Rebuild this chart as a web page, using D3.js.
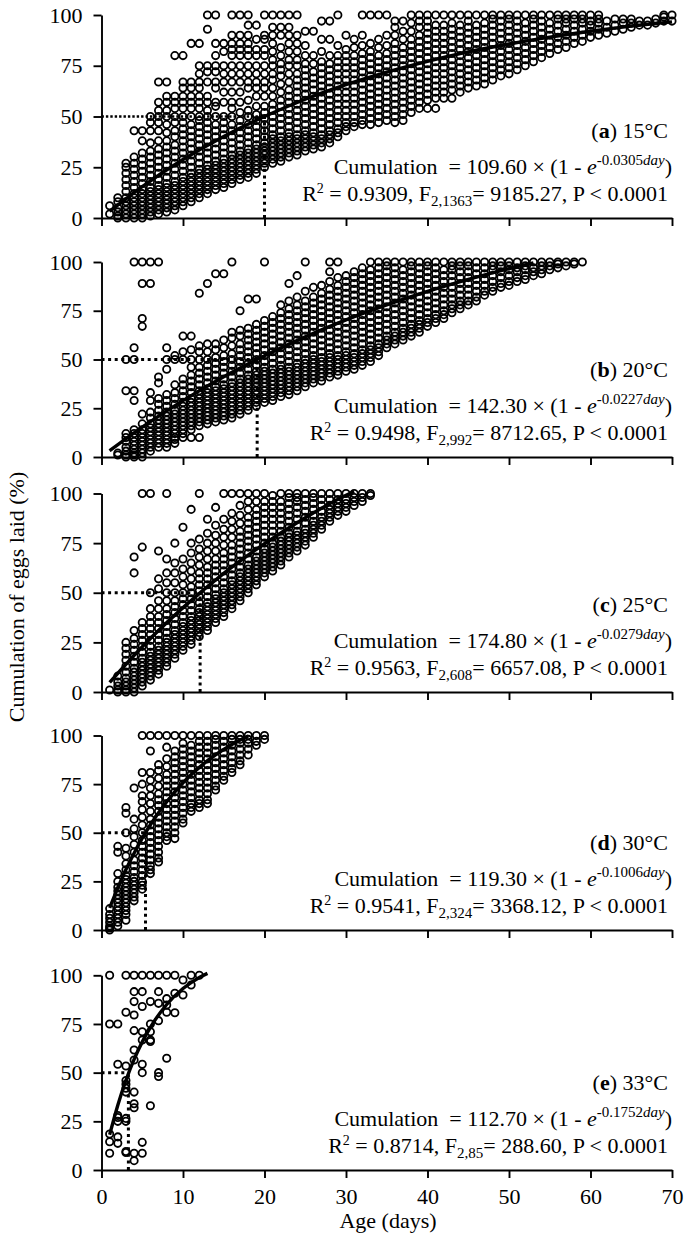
<!DOCTYPE html>
<html><head><meta charset="utf-8">
<script src="https://cdn.jsdelivr.net/npm/d3@7"></script>
<style>
body{margin:0;background:#fff}
svg{display:block;background:#fff}
text{font-family:"Liberation Serif","Times New Roman",serif;fill:#000;white-space:pre}
</style>
</head><body>
<svg id="chart" width="687" height="1243"></svg>
<script>
// ---------- DATA ----------
const xTicks = [0,10,20,30,40,50,60,70];
const yTicks = [0,25,50,75,100];
const panelLetters = ["a","b","c","d","e"];
const temps = ["15°C","20°C","25°C","30°C","33°C"];
const asym = ["109.60","142.30","174.80","119.30","112.70"];
const rate = ["0.0305","0.0227","0.0279","0.1006","0.1752"];
const r2 = ["0.9309","0.9498","0.9563","0.9541","0.8714"];
const dfs = ["2,1363","2,992","2,608","2,324","2,85"];
const fvals = ["9185.27","8712.65","6657.08","3368.12","288.60"];
const halfDay = [20.0,19.1,12.1,5.4,3.3];

// per-day cumulative % values (a) 15°C
const pointsA = [
[1,[2,6]],
[2,[0,1,3,5,8,10]],
[3,[0,2,4,6,8,10,13,16,19,22,25,27]],
[4,[0,2,4,6,8,10,12,15,18,21,24,27,30,43]],
[5,[0,2,4,6,8,10,12,14,17,20,23,26,29,32,38,43]],
[6,[1,3,5,7,9,11,13,15,18,21,24,27,30,33,37,43,47,50]],
[7,[2,4,6,8,10,12,14,16,19,22,25,28,31,34,38,43,47,50,53,57,67]],
[8,[3,5,7,9,11,13,15,17,20,23,26,29,32,35,38,42,46,50,53,57,60,67]],
[9,[4,6,8,10,12,14,16,18,21,24,27,30,33,36,40,43,47,50,54,57,60,80]],
[10,[6,8,10,12,14,16,18,20,23,26,29,32,35,38,41,44,47,50,54,57,60,64,67,80]],
[11,[8,10,12,14,16,18,20,22,25,28,31,34,37,40,43,46,50,54,57,60,64,67,86]],
[12,[10,12,14,16,18,20,22,24,27,30,33,36,39,42,45,48,50,54,57,60,64,67,71,75,86]],
[13,[12,14,16,18,20,22,24,26,29,32,35,38,41,44,47,50,53,57,60,67,72,75,93,100]],
[14,[14,16,18,20,22,24,26,28,31,34,37,40,43,46,50,55,57,64,67,72,75,80,86,100]],
[15,[15,17,19,21,23,25,27,29,32,35,38,41,44,47,50,57,62,67,71,75,82,86]],
[16,[17,19,21,23,25,27,29,31,34,37,40,43,46,50,54,57,62,67,71,75,80,83,86,90,100]],
[17,[19,21,23,25,27,29,31,33,36,39,42,45,48,52,57,62,67,71,75,80,83,86,90,100]],
[18,[20,22,24,26,28,30,32,34,37,40,43,46,50,53,58,64,67,71,75,80,83,86,90,95,100]],
[19,[22,24,26,28,30,32,34,36,39,42,45,48,51,55,60,64,67,71,75,80,83,88,95]],
[20,[25,27,29,31,33,35,37,40,43,46,49,52,55,60,64,67,71,75,80,83,88,90,100]],
[21,[27,29,31,33,35,37,39,41,44,47,50,53,56,60,64,68,71,75,78,82,86,90,94,100]],
[22,[28,30,32,34,36,38,40,43,46,49,52,55,58,62,66,70,73,76,80,84,90,94,100]],
[23,[30,32,34,36,38,40,42,45,48,51,54,57,60,63,67,71,75,78,82,86,90,94,100]],
[24,[31,33,35,37,39,41,44,47,50,53,56,59,62,65,68,71,75,78,82,86,90,100]],
[25,[33,35,37,39,41,43,46,49,52,55,58,61,64,67,70,73,76,80,85,92]],
[26,[34,36,38,40,42,45,48,51,54,57,60,63,66,69,72,76,80,92]],
[27,[35,37,39,41,44,47,50,53,56,59,62,65,68,71,74,77,82,88,97]],
[28,[37,39,41,43,46,49,52,55,58,61,64,67,70,73,76,80,88,97]],
[29,[40,42,44,47,50,53,56,59,62,65,68,71,74,77,80,85,100]],
[30,[43,45,47,50,53,56,59,62,65,68,71,74,77,80,83,90]],
[31,[45,47,50,53,56,59,62,65,68,71,74,77,80,84,88]],
[32,[46,48,51,54,57,60,63,66,69,72,75,78,81,85,90,100]],
[33,[46,49,52,55,58,61,64,67,70,73,76,79,82,86,100]],
[34,[47,50,53,56,59,62,65,68,71,74,77,80,84,88,100]],
[35,[48,51,54,57,60,63,66,69,72,75,78,81,85,90,100]],
[36,[47,50,53,56,59,62,65,68,71,74,77,80,83,86,90,94,97]],
[37,[48,51,54,57,60,63,66,69,72,75,78,81,84,88,92,97]],
[38,[52,55,58,61,64,67,70,73,76,79,82,85,88,92,96,100]],
[39,[54,57,60,63,66,69,72,75,78,81,84,87,90,94,97,100]],
[40,[54,58,61,64,67,70,73,76,79,82,85,88,91,94,97,100]],
[41,[54,59,62,65,68,71,74,77,80,83,86,89,92,95,100]],
[42,[59,62,65,68,71,74,77,80,83,86,89,92,95,100]],
[43,[59,63,66,69,72,75,78,81,84,87,90,93,96,100]],
[44,[62,65,68,71,74,77,80,83,86,89,92,95,100]],
[45,[64,67,70,73,76,79,82,85,88,91,94,97,100]],
[46,[65,68,71,74,77,80,83,86,89,92,95,100]],
[47,[66,69,72,75,78,81,84,87,90,93,96,100]],
[48,[68,71,74,77,80,83,86,89,92,95,98,100]],
[49,[70,73,76,79,82,85,88,91,94,97,100]],
[50,[71,74,77,80,83,86,89,92,95,98,100]],
[51,[73,76,79,82,85,88,91,94,97,100]],
[52,[75,78,81,84,87,90,93,96,100]],
[53,[77,80,83,86,89,92,95,98,100]],
[54,[79,82,85,88,91,94,97,100]],
[55,[81,84,87,90,93,96,100]],
[56,[83,86,89,92,95,98,100]],
[57,[84,87,90,93,96,98,100]],
[58,[86,89,92,95,98,100]],
[59,[87,90,93,96,98,100]],
[60,[89,92,95,97,100]],
[61,[90,93,96,98,100]],
[62,[91,94,97]],
[63,[92,95,98]],
[64,[93,96,98]],
[65,[94,96,98]],
[66,[95,97]],
[67,[95,97]],
[68,[96,98]],
[69,[97,99,100]],
[70,[97,100]]
];

// (b) 20°C
const pointsB = [
[2,[1,2]],
[3,[0,1,3,5,8,10,12,34,50]],
[4,[0,1,2,4,6,8,10,12,14,29,34,50,56,100]],
[5,[0,2,4,6,8,10,12,14,17,22,67,71,89,100]],
[6,[3,5,7,9,11,13,15,17,20,23,29,33,89,100]],
[7,[5,7,9,11,13,15,17,19,21,24,27,30,38,41,100]],
[8,[5,7,9,11,13,15,17,19,21,23,26,29,32,45,50,56]],
[9,[7,9,10,12,14,16,18,20,22,24,27,30,33,37,50,52]],
[10,[10,12,14,16,18,20,22,24,26,28,31,34,37,40,50,54,62]],
[11,[10,14,16,18,20,22,24,26,28,30,33,36,39,42,46,50,55,62]],
[12,[10,16,18,20,22,24,26,28,30,32,34,37,40,43,46,50,54,57,84]],
[13,[17,19,21,23,25,27,29,31,33,35,38,41,44,47,50,54,58,89]],
[14,[18,20,22,24,26,28,30,32,34,36,39,42,45,48,51,55,58,94]],
[15,[19,21,23,25,27,29,31,33,35,37,40,43,46,49,52,56,60,94]],
[16,[20,22,24,26,28,30,32,34,36,38,41,44,47,50,53,57,61,64,100]],
[17,[22,24,26,28,30,32,34,36,38,40,43,46,49,52,55,58,62,65,75]],
[18,[24,26,28,30,32,34,36,38,40,42,45,48,51,54,57,60,63,66,81]],
[19,[26,28,30,32,34,36,38,40,42,44,47,50,53,56,59,62,65,68,81]],
[20,[28,30,32,34,36,38,40,42,44,46,49,52,55,58,61,64,67,70,100]],
[21,[29,31,33,35,37,39,41,43,45,48,51,54,57,60,63,66,69,72]],
[22,[31,33,35,37,39,41,43,45,47,50,53,56,59,62,65,68,71,74,78]],
[23,[32,34,36,38,40,42,44,46,49,52,55,58,61,64,67,70,73,76,80,89]],
[24,[34,36,38,40,42,44,46,48,51,54,57,60,63,66,69,72,75,78,82,93]],
[25,[36,38,40,42,44,46,48,50,53,56,59,62,65,68,71,74,77,80,85,100]],
[26,[38,40,42,44,46,48,50,52,55,58,61,64,67,70,73,76,79,82,87]],
[27,[39,41,43,45,47,49,51,54,57,60,63,66,69,72,75,78,81,84,88]],
[28,[41,43,45,47,49,51,53,56,59,62,65,68,71,74,77,80,83,86,90,95,100]],
[29,[42,44,46,48,50,52,55,58,61,64,67,70,73,76,79,82,85,88,92,100]],
[30,[44,46,48,50,52,54,57,60,63,66,69,72,75,78,81,84,87,90,93]],
[31,[45,47,49,51,53,56,59,62,65,68,71,74,77,80,83,86,89,92,95]],
[32,[47,49,51,53,55,58,61,64,67,70,73,76,79,82,85,88,91,94,97]],
[33,[49,51,53,55,57,60,63,66,69,72,75,78,81,84,87,90,93,96,100]],
[34,[52,54,56,58,61,64,67,70,73,76,79,82,85,88,91,94,97,100]],
[35,[56,58,60,62,65,68,71,74,77,80,83,86,89,92,95,98,100]],
[36,[58,60,62,64,67,70,73,76,79,82,85,88,91,94,97,100]],
[37,[60,62,64,66,69,72,75,78,81,84,87,90,93,96,100]],
[38,[62,64,66,68,71,74,77,80,83,86,89,92,95,98,100]],
[39,[64,66,68,70,73,76,79,82,85,88,91,94,97,100]],
[40,[67,69,71,74,77,80,83,86,89,92,95,98,100]],
[41,[69,71,73,76,79,82,85,88,91,94,97,100]],
[42,[71,73,75,78,81,84,87,90,93,96,100]],
[43,[74,76,78,81,84,87,90,93,96,98,100]],
[44,[76,78,80,83,86,89,92,95,98,100]],
[45,[78,80,83,86,89,92,95,98,100]],
[46,[80,82,85,88,91,94,97,100]],
[47,[83,85,88,91,94,97,100]],
[48,[85,87,90,93,96,98,100]],
[49,[87,89,92,95,98,100]],
[50,[88,90,93,96,98,100]],
[51,[90,92,95,97,100]],
[52,[91,93,96,98,100]],
[53,[93,95,97,100]],
[54,[94,96,98,100]],
[55,[96,98,100]],
[56,[97,99,100]],
[57,[98,100]],
[58,[99,100]],
[59,[100]]
];

// (c) 25°C
const pointsC = [
[1,[1]],
[2,[0,1,3,5,8]],
[3,[0,1,3,5,7,10,13,16,19,22,25]],
[4,[0,2,4,6,8,10,12,15,18,21,24,27,31,60,68]],
[5,[3,5,7,9,11,13,15,17,20,23,26,29,32,35,73,100]],
[6,[6,8,10,12,14,16,18,20,23,26,29,32,35,38,42,50,100]],
[7,[9,11,13,15,17,19,21,23,26,29,32,35,38,42,46,52,57,71]],
[8,[13,15,17,19,21,23,25,27,30,33,36,39,42,46,50,55,60,67,100]],
[9,[17,19,21,23,25,27,29,31,34,37,40,43,46,50,55,60,65,75]],
[10,[21,23,25,27,29,31,33,35,38,41,44,47,50,54,58,62,67,83]],
[11,[24,26,28,30,32,34,36,38,41,44,47,50,53,57,61,65,70,75,92]],
[12,[28,30,32,34,36,38,40,42,45,48,51,54,57,60,64,68,72,77,100]],
[13,[31,33,35,37,39,41,43,45,48,51,54,57,60,63,67,71,75,80,87]],
[14,[35,37,39,41,43,45,47,49,52,55,58,61,64,67,71,75,79,84,93]],
[15,[38,40,42,44,46,48,50,52,55,58,61,64,67,70,74,78,82,87,100]],
[16,[42,44,46,48,50,52,54,56,59,62,65,68,71,74,78,82,86,90,100]],
[17,[46,48,50,52,54,56,58,60,63,66,69,72,75,78,81,85,89,94,100]],
[18,[50,52,54,56,58,60,62,64,67,70,73,76,79,82,85,88,92,96,100]],
[19,[54,56,58,60,62,64,66,68,71,74,77,80,83,86,89,92,96,100]],
[20,[58,60,62,64,66,68,70,72,75,78,81,84,87,90,93,96,100]],
[21,[61,63,65,67,69,71,73,75,78,81,84,87,90,93,96,99]],
[22,[64,66,68,70,72,74,76,78,81,84,87,90,93,96,100]],
[23,[68,70,72,74,76,78,80,83,86,89,92,95,98,100]],
[24,[71,73,75,77,79,81,84,87,90,93,96,98,100]],
[25,[74,76,78,80,82,85,88,91,94,97,100]],
[26,[78,80,82,84,86,89,92,95,98,100]],
[27,[82,84,86,88,91,94,97,100]],
[28,[86,88,90,92,94,97,100]],
[29,[89,91,93,95,97,100]],
[30,[91,93,95,97,100]],
[31,[94,96,98,100]],
[32,[96,98,100]],
[33,[99,100]]
];

// (d) 30°C
const pointsD = [
[1,[0,1,2,4,6,8,11]],
[2,[2,4,6,8,10,12,14,16,18,20,22,25,29,40,43]],
[3,[5,8,10,12,14,16,18,20,22,24,26,28,31,34,38,42,50,60,63]],
[4,[15,17,19,21,23,25,27,30,33,36,40,44,48,52,57,73]],
[5,[21,23,25,28,31,34,37,40,43,46,50,54,58,62,66,69,75,81,100]],
[6,[29,31,33,36,39,42,45,48,51,54,57,61,65,69,73,77,81,92,100]],
[7,[35,37,40,43,46,49,52,55,58,61,64,67,70,74,78,82,85,100]],
[8,[46,48,50,53,56,59,62,65,68,71,74,77,80,84,88,94,100]],
[9,[47,50,53,56,59,62,65,68,71,74,77,80,83,86,89,92,100]],
[10,[55,57,60,63,66,69,72,75,78,81,84,87,90,93,96,100]],
[11,[61,63,65,68,71,74,77,80,83,86,89,92,95,100]],
[12,[63,65,67,70,73,76,79,82,85,88,91,94,97,100]],
[13,[65,67,70,73,76,79,82,85,88,91,94,97,100]],
[14,[72,74,77,80,83,86,89,92,95,98,100]],
[15,[77,79,82,85,88,91,94,97,100]],
[16,[81,83,86,89,92,95,98,100]],
[17,[85,87,90,93,96,98,100]],
[18,[90,93,96,98,100]],
[19,[95,97,100]],
[20,[98,100]]
];

// (e) 33°C
const pointsE = [
[1,[8.6,14.5,18.5,75,100]],
[2,[13.7,17,25,27,28,54.3,75]],
[3,[9,9.5,25,26.5,40,42,44,46,53.4,81,100]],
[4,[4.8,8.6,32,34,40,56.5,61.6,71.6,79.6,86.5,91.6,100]],
[5,[8.6,14.2,50,54.3,66.8,71,84,91.6,100]],
[6,[33,66,66.8,71,75,86.5,100]],
[7,[48,50,76.7,85.6,91.6,100]],
[8,[57.4,81,84.7,88,100]],
[9,[80.8,90.8,100]],
[10,[89.9,97.6]],
[11,[95,100]],
[12,[100]]
];

// fitted curves [day, %]
const curveA = [[1,3.3],[5,15.5],[10,28.8],[15,40.2],[20,50.0],[25,58.5],[30,65.7],[35,71.9],[40,77.2],[45,81.8],[50,85.7],[55,89.1],[60,92.0],[65,94.5],[70,96.6]];
const curveB = [[1,3.2],[5,15.3],[10,28.9],[15,41.1],[20,51.9],[25,61.6],[30,70.3],[35,78.0],[40,84.9],[45,91.1],[50,96.6],[53,99.6]];
const curveC = [[1,4.8],[5,22.8],[10,42.5],[15,59.8],[20,74.7],[25,87.8],[30,99.1],[31,101.0]];
const curveD = [[1,11.4],[2,21.7],[3,31.1],[4,39.5],[5,47.2],[6,54.1],[8,65.9],[10,75.7],[12,83.6],[14,90.1],[16,95.4],[18,99.8]];
const curveE = [[1,18.1],[2,33.3],[3,46.1],[4,56.8],[5,65.8],[6,73.3],[8,85.0],[10,93.2],[12,98.9],[13,101.0]];

// ---------- DRAW ----------
const pointSets = [pointsA,pointsB,pointsC,pointsD,pointsE];
const curves = [curveA,curveB,curveC,curveD,curveE];
const frames = [[15,218],[262,457],[493.5,692],[735.5,930],[975.3,1170]];
const svg = d3.select("#chart");
const x = d3.scaleLinear().domain([0,70]).range([101.5,672]);
const FS = 22;

frames.forEach((f,i)=>{
  const y = d3.scaleLinear().domain([0,100]).range([f[1],f[0]]);
  const g = svg.append("g");
  const last = i===frames.length-1;

  // dotted 50% guide lines
  g.append("line").attr("x1",x(0)).attr("x2",x(halfDay[i])).attr("y1",y(50)).attr("y2",y(50))
   .attr("stroke","#000").attr("stroke-width",i===0?2.4:3).attr("stroke-dasharray",i===0?"2.4,2":"3,3.6");
  g.append("line").attr("x1",x(halfDay[i])).attr("x2",x(halfDay[i])).attr("y1",y(0)).attr("y2",y(50))
   .attr("stroke","#000").attr("stroke-width",3).attr("stroke-dasharray","3,3.6");

  // points
  const flat = [];
  pointSets[i].forEach(([d,vals])=>vals.forEach(v=>flat.push([d,v])));
  g.append("g").selectAll("circle").data(flat).join("circle")
    .attr("cx",d=>x(d[0])).attr("cy",d=>y(d[1])).attr("r",3.65)
    .attr("fill","none").attr("stroke","#000").attr("stroke-width",1.8);

  // fitted curve
  g.append("path").datum(curves[i])
    .attr("d",d3.line().x(d=>x(d[0])).y(d=>y(d[1])).curve(d3.curveMonotoneX))
    .attr("fill","none").attr("stroke","#000").attr("stroke-width",3.4);

  // axes
  const ya = g.append("g").attr("transform",`translate(${x(0)},0)`)
    .call(d3.axisLeft(y).tickValues(yTicks).tickSize(8).tickSizeOuter(0).tickPadding(11));
  const xa = g.append("g").attr("transform",`translate(0,${y(0)})`)
    .call(d3.axisBottom(x).tickValues(xTicks).tickSize(8).tickSizeOuter(0).tickPadding(10)
      .tickFormat(last?d3.format("d"):()=>""));
  [ya,xa].forEach(a=>{
    a.select(".domain").attr("stroke","#000").attr("stroke-width",1.9);
    a.selectAll(".tick line").attr("stroke","#000").attr("stroke-width",1.9);
    a.selectAll(".tick text").attr("font-family","Liberation Serif, serif").attr("font-size",FS).attr("fill","#000");
  });

  // panel label
  const lab = g.append("text").attr("x",668).attr("y",f[1]-80).attr("text-anchor","end").attr("font-size",FS);
  lab.append("tspan").text("(");
  lab.append("tspan").attr("font-weight","bold").text(panelLetters[i]);
  lab.append("tspan").text(") "+temps[i]);

  // equation
  const eq = g.append("text").attr("x",672).attr("y",f[1]-44).attr("text-anchor","end").attr("font-size",FS);
  eq.append("tspan").text("Cumulation  = "+asym[i]+" × (1 - ");
  eq.append("tspan").attr("font-style","italic").text("e");
  eq.append("tspan").attr("font-size",15).attr("dy",-9).text("-"+rate[i]);
  eq.append("tspan").attr("font-size",15).attr("font-style","italic").text("day");
  eq.append("tspan").attr("dy",9).text(")");

  // statistics
  const st = g.append("text").attr("x",668).attr("y",f[1]-17).attr("text-anchor","end").attr("font-size",FS);
  st.append("tspan").text("R");
  st.append("tspan").attr("font-size",14).attr("dy",-8).text("2");
  st.append("tspan").attr("dy",8).text(" = "+r2[i]+", F");
  st.append("tspan").attr("font-size",15).attr("dy",5).text(dfs[i]);
  st.append("tspan").attr("dy",-5).text("= "+fvals[i]+", P < 0.0001");
});

// axis titles
svg.append("text").attr("transform","translate(24,597) rotate(-90)").attr("text-anchor","middle")
  .attr("font-size",FS).text("Cumulation of eggs laid (%)");
svg.append("text").attr("x",388).attr("y",1228).attr("text-anchor","middle")
  .attr("font-size",FS).text("Age (days)");
</script>
</body></html>
